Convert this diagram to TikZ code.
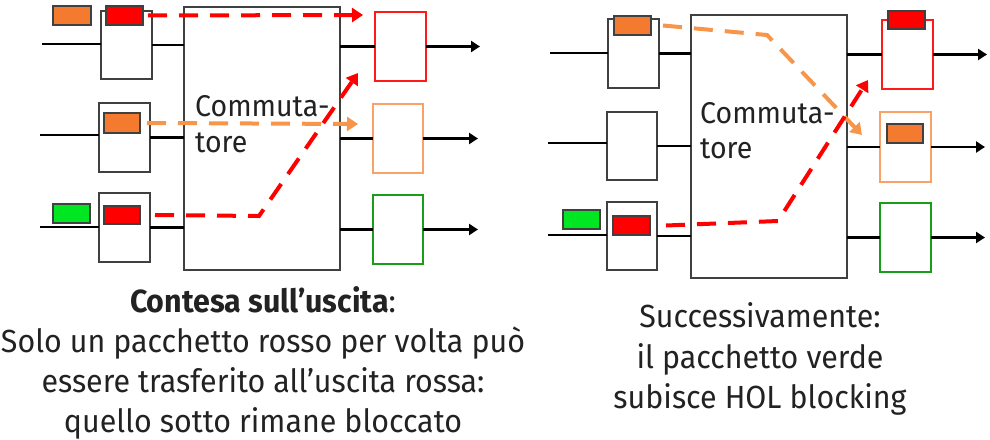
\documentclass[tikz,border=0pt]{standalone}
\usepackage{fontspec}
\setmainfont{Fira Sans}[FakeStretch=0.95]
\usetikzlibrary{arrows.meta}
\definecolor{bgray}{HTML}{404040}
\definecolor{txt}{HTML}{222222}
\definecolor{pred}{HTML}{FF0000}
\definecolor{porange}{HTML}{F47A30}
\definecolor{pgreen}{HTML}{00E622}
\definecolor{dorange}{HTML}{F7964A}
\definecolor{ored}{HTML}{FF1A1A}
\definecolor{oorange}{HTML}{F9A268}
\definecolor{ogreen}{HTML}{1A9E1A}
\tikzset{
  box/.style={draw=bgray, line width=1.4pt, fill=white, inner sep=0pt, outer sep=0pt, anchor=north west},
  outbox/.style={box, line width=2.6pt},
  pkt/.style={draw=bgray, line width=1.3pt, inner sep=0pt, outer sep=0pt, anchor=north west},
  wire/.style={line width=2.6pt, black},
  outarr/.style={wire, -{Triangle[length=9pt,width=11pt]}},
  dashline/.style={line width=4pt, dash pattern=on 19pt off 12pt, -{Triangle[length=11pt,width=14pt]}},
  lbl/.style={inner sep=0pt, text=txt, font=\fontsize{30}{36}\selectfont},
  captxt/.style={inner sep=0pt, text=txt, anchor=base, font=\fontsize{32}{40}\selectfont}
}
\begin{document}
\begin{tikzpicture}[x=1pt,y=-1pt]
\useasboundingbox[fill=white] (0,0) rectangle (990,439);
% ---------- LEFT PANEL ----------
\coordinate (i1) at (42,44);
\coordinate (i2) at (40,135);
\coordinate (i3) at (40,227);
\coordinate (e1) at (480,45);
\coordinate (e2) at (478,136);
\coordinate (e3) at (478,228);
\node[box, minimum width=156pt, minimum height=263pt] (sw1) at (184,7) {};
\node[box, minimum width=51pt, minimum height=68pt] (b1) at (101,11) {};
\node[box, minimum width=51pt, minimum height=69pt] (b2) at (99,103) {};
\node[box, minimum width=51pt, minimum height=69pt] (b3) at (99,193) {};
\node[outbox, draw=ored, minimum width=51pt, minimum height=69pt] (o1) at (375,12) {};
\node[outbox, draw=oorange, minimum width=50pt, minimum height=69pt] (o2) at (373,104) {};
\node[outbox, draw=ogreen, minimum width=50pt, minimum height=69pt] (o3) at (373,195) {};
\draw[wire] (i1) -- (i1 -| b1.west);
\draw[wire] (i2) -- (i2 -| b2.west);
\draw[wire] (i3) -- (i3 -| b3.west);
\draw[wire] (b1.east) -- (b1.east -| sw1.west);
\draw[wire] (b2.east) -- (b2.east -| sw1.west);
\draw[wire] (b3.east) -- (b3.east -| sw1.west);
\draw[wire] (o1.west -| sw1.east) -- (o1.west);
\draw[wire] (o2.west -| sw1.east) -- (o2.west);
\draw[wire] (o3.west -| sw1.east) -- (o3.west);
\draw[outarr] (o1.east) -- (o1.east -| e1);
\draw[outarr] (o2.east) -- (o2.east -| e2);
\draw[outarr] (o3.east) -- (o3.east -| e3);
\node[pkt, fill=porange, minimum width=38pt, minimum height=19pt] (pa1) at (53,6) {};
\node[pkt, fill=pred, minimum width=37pt, minimum height=19pt] (pa2) at (106,6) {};
\node[pkt, fill=porange, minimum width=36pt, minimum height=20pt] (pa3) at (104,113) {};
\node[pkt, fill=pgreen, minimum width=37pt, minimum height=19pt] (pa4) at (53,204) {};
\node[pkt, fill=pred, minimum width=36pt, minimum height=18pt] (pa5) at (104,206) {};
\node[lbl, anchor=base west] (t1a) at (195,116) {Commuta-};
\node[lbl, anchor=base west] (t1b) at (195,152) {tore};
\coordinate (ta1) at (363,15);
\coordinate (ta2) at (358,124);
\coordinate (k1) at (259,216);
\coordinate (ta3) at (358,73);
\draw[dashline, pred] ([xshift=5pt]pa2.east) -- (ta1);
\draw[dashline, dorange] ([xshift=7pt]pa3.east) -- (ta2);
\draw[dashline, pred] ([xshift=15pt]pa5.east) -- (k1) -- (ta3);
% ---------- RIGHT PANEL ----------
\coordinate (j1) at (550,53);
\coordinate (j2) at (548,143);
\coordinate (j3) at (548,235);
\coordinate (f1) at (987,53);
\coordinate (f2) at (985,144);
\coordinate (f3) at (985,236);
\node[box, minimum width=156pt, minimum height=263pt] (sw2) at (691,15) {};
\node[box, minimum width=51pt, minimum height=69pt] (c1) at (608,19) {};
\node[box, minimum width=50pt, minimum height=68pt] (c2) at (607,112) {};
\node[box, minimum width=50pt, minimum height=68pt] (c3) at (607,202) {};
\node[outbox, draw=ored, minimum width=51pt, minimum height=69pt] (q1) at (882,20) {};
\node[outbox, draw=oorange, minimum width=51pt, minimum height=70pt] (q2) at (880,112) {};
\node[outbox, draw=ogreen, minimum width=51pt, minimum height=69pt] (q3) at (880,203) {};
\draw[wire] (j1) -- (j1 -| c1.west);
\draw[wire] (j2) -- (j2 -| c2.west);
\draw[wire] (j3) -- (j3 -| c3.west);
\draw[wire] (c1.east) -- (c1.east -| sw2.west);
\draw[wire] (c2.east) -- (c2.east -| sw2.west);
\draw[wire] (c3.east) -- (c3.east -| sw2.west);
\draw[wire] (q1.west -| sw2.east) -- (q1.west);
\draw[wire] (q2.west -| sw2.east) -- (q2.west);
\draw[wire] (q3.west -| sw2.east) -- (q3.west);
\draw[outarr] (q1.east) -- (q1.east -| f1);
\draw[outarr] (q2.east) -- (q2.east -| f2);
\draw[outarr] (q3.east) -- (q3.east -| f3);
\node[pkt, fill=porange, minimum width=37pt, minimum height=19pt] (qa1) at (614,16) {};
\node[pkt, fill=pgreen, minimum width=37pt, minimum height=19pt] (qa2) at (563,210) {};
\node[pkt, fill=pred, minimum width=37pt, minimum height=19pt] (qa3) at (613,216) {};
\node[pkt, fill=pred, minimum width=37pt, minimum height=18pt] (qa4) at (888,11) {};
\node[pkt, fill=porange, minimum width=36pt, minimum height=19pt] (qa5) at (887,124) {};
\node[lbl, anchor=base west] (t2a) at (700,123) {Commuta-};
\node[lbl, anchor=base west] (t2b) at (700,158) {tore};
\coordinate (m1) at (767,35);
\coordinate (tb1) at (862,135);
\coordinate (m2) at (778,221);
\coordinate (tb2) at (868,80);
\draw[dashline, dorange] ([xshift=12pt]qa1.east) -- (m1) -- (tb1);
\draw[dashline, pred] ([xshift=16pt]qa3.east) -- (m2) -- (tb2);
% ---------- CAPTIONS ----------
\node[captxt] (l1) at (263,312) {\textbf{Contesa sull’uscita}:};
\node[captxt] (l2) at (263,352) {Solo un pacchetto rosso per volta può};
\node[captxt] (l3) at (263,392) {essere trasferito all’uscita rossa:};
\node[captxt] (l4) at (263,432) {quello sotto rimane bloccato};
\node[captxt] (r1) at (760,327) {Successivamente:};
\node[captxt] (r2) at (760,368) {il pacchetto verde};
\node[captxt] (r3) at (760,408) {subisce HOL blocking};
\end{tikzpicture}
\end{document}
